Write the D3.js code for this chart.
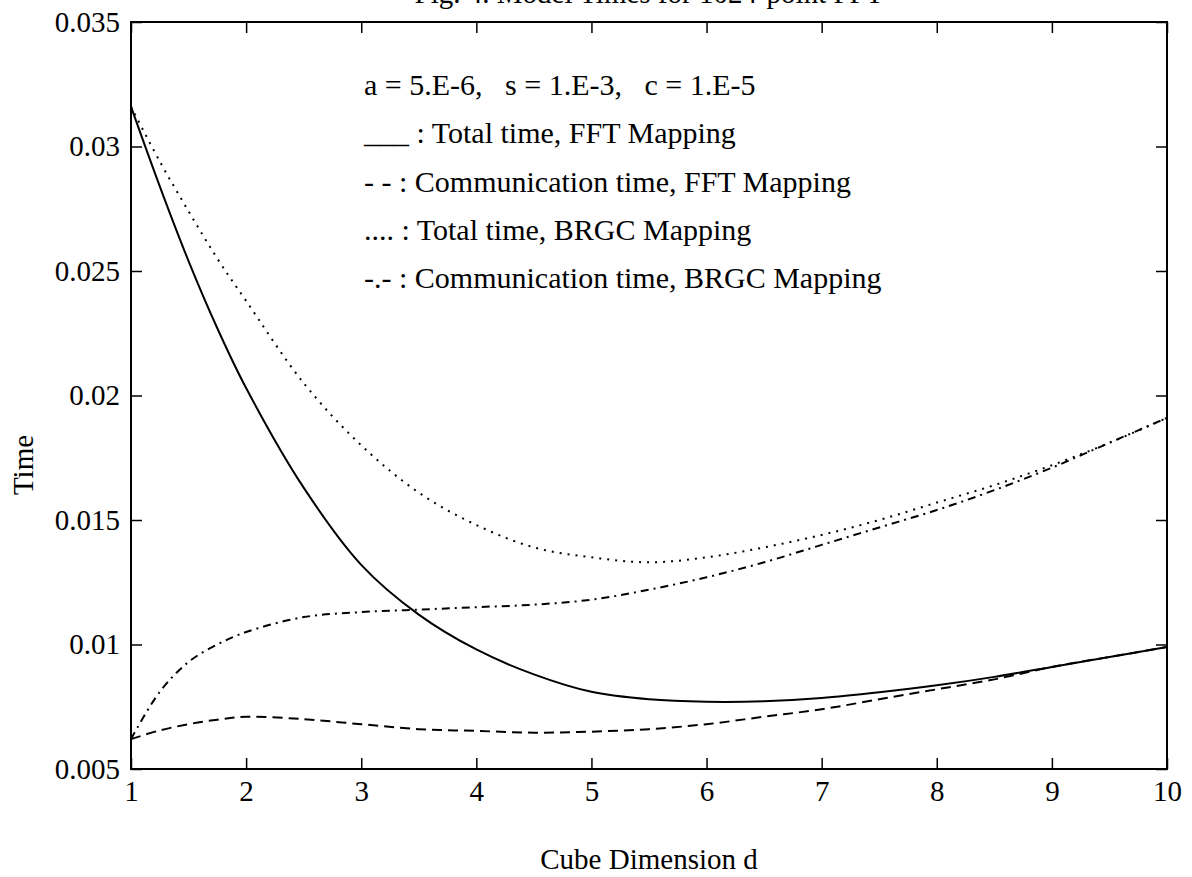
<!DOCTYPE html>
<html>
<head>
<meta charset="utf-8">
<script src="https://cdn.jsdelivr.net/npm/d3@7"></script>
<style>
  body { margin: 0; background: #fff; }
  text { font-family: "Liberation Serif", "DejaVu Serif", serif; fill: #000; }
</style>
</head>
<body>
<svg id="chart" width="1192" height="877"></svg>
<script>
// ===============================
// Data
// ===============================
const dims = [1, 1.25, 1.5, 1.75, 2, 2.5, 3, 3.5, 4, 4.5, 5, 5.5, 6, 6.5, 7, 7.5, 8, 8.5, 9, 9.5, 10];

const totalFFT  = [0.0316, 0.0284, 0.0254, 0.0227, 0.0203, 0.0163, 0.0132, 0.0112, 0.0098, 0.0088, 0.0081, 0.0078, 0.0077, 0.00772, 0.00785, 0.00808, 0.00836, 0.0087, 0.0091, 0.0095, 0.0099];
const commFFT   = [0.0062, 0.00655, 0.0068, 0.00698, 0.0071, 0.0070, 0.0068, 0.0066, 0.00653, 0.00646, 0.0065, 0.0066, 0.0068, 0.0071, 0.0074, 0.0078, 0.0082, 0.0086, 0.0091, 0.0095, 0.0099];
const totalBRGC = [0.0316, 0.0294, 0.0274, 0.0255, 0.0238, 0.0205, 0.0180, 0.0161, 0.0148, 0.0139, 0.0135, 0.0133, 0.0135, 0.0139, 0.0144, 0.0150, 0.0157, 0.0164, 0.0172, 0.0181, 0.0191];
const commBRGC  = [0.0062, 0.0081, 0.0093, 0.0100, 0.0105, 0.0111, 0.0113, 0.0114, 0.0115, 0.0116, 0.0118, 0.0122, 0.0127, 0.0133, 0.0140, 0.0147, 0.0154, 0.0162, 0.0171, 0.0181, 0.0191];

const xTicks = [1, 2, 3, 4, 5, 6, 7, 8, 9, 10];
const yTicks = [0.005, 0.01, 0.015, 0.02, 0.025, 0.03, 0.035];
const yTickLabels = ["0.005", "0.01", "0.015", "0.02", "0.025", "0.03", "0.035"];

const legendLines = [
    "a = 5.E-6,   s = 1.E-3,   c = 1.E-5",
    "___ : Total time, FFT Mapping",
    "- - : Communication time, FFT Mapping",
    ".... : Total time, BRGC Mapping",
    "-.- : Communication time, BRGC Mapping"
];

// ===============================
// Setup
// ===============================
const svg = d3.select("#chart"),
      margin = { top: 22, right: 25, bottom: 108, left: 131 },
      width = 1192,
      height = 877,
      fontSize = 29;

const x = d3.scaleLinear()
    .domain([1, 10])
    .range([margin.left, width - margin.right]);

const y = d3.scaleLinear()
    .domain([0.005, 0.035])
    .range([height - margin.bottom, margin.top]);

const yLabel = d => yTickLabels[yTicks.indexOf(d)];

// Axes (ticks point inward on all four sides)
function styleAxis(g) {
    g.selectAll("path.domain").remove();
    g.selectAll("line").attr("stroke", "#000").attr("stroke-width", 1.5);
    g.selectAll("text").style("font-size", fontSize + "px")
        .style("font-family", "'Liberation Serif', serif");
}

svg.append("g")
    .attr("transform", `translate(0, ${y(0.005)})`)
    .call(d3.axisBottom(x).tickValues(xTicks).tickSizeInner(-11).tickSizeOuter(0).tickPadding(11))
    .call(styleAxis);

svg.append("g")
    .attr("transform", `translate(0, ${y(0.035)})`)
    .call(d3.axisTop(x).tickValues(xTicks).tickSizeInner(-11).tickSizeOuter(0).tickFormat(""))
    .call(styleAxis);

svg.append("g")
    .attr("transform", `translate(${x(1)}, 0)`)
    .call(d3.axisLeft(y).tickValues(yTicks).tickFormat(yLabel).tickSizeInner(-11).tickSizeOuter(0).tickPadding(11))
    .call(styleAxis);

svg.append("g")
    .attr("transform", `translate(${x(10)}, 0)`)
    .call(d3.axisRight(y).tickValues(yTicks).tickSizeInner(-11).tickSizeOuter(0).tickFormat(""))
    .call(styleAxis);

// Frame
svg.append("rect")
    .attr("x", x(1))
    .attr("y", y(0.035))
    .attr("width", x(10) - x(1))
    .attr("height", y(0.005) - y(0.035))
    .attr("fill", "none")
    .attr("stroke", "#000")
    .attr("stroke-width", 2);

// ===============================
// Curves
// ===============================
const line = d3.line()
    .x(d => x(d[0]))
    .y(d => y(d[1]))
    .curve(d3.curveCatmullRom.alpha(0.5));

const series = [
    { values: totalFFT,  dash: null },
    { values: commFFT,   dash: "10,6" },
    { values: totalBRGC, dash: "2,6" },
    { values: commBRGC,  dash: "8,5,2,5" }
];

series.forEach(s => {
    svg.append("path")
        .datum(dims.map((d, i) => [d, s.values[i]]))
        .attr("fill", "none")
        .attr("stroke", "#000")
        .attr("stroke-width", 2)
        .attr("stroke-dasharray", s.dash)
        .attr("d", line);
});

// ===============================
// Text
// ===============================
svg.append("text")
    .attr("x", (x(1) + x(10)) / 2)
    .attr("y", 3)
    .attr("text-anchor", "middle")
    .style("font-size", fontSize + "px")
    .text("Fig. 4. Model Times for 1024-point FFT");

svg.append("text")
    .attr("x", (x(1) + x(10)) / 2)
    .attr("y", 869)
    .attr("text-anchor", "middle")
    .style("font-size", fontSize + "px")
    .text("Cube Dimension d");

svg.append("text")
    .attr("transform", "translate(33, 465) rotate(-90)")
    .attr("text-anchor", "middle")
    .style("font-size", fontSize + "px")
    .text("Time");

svg.selectAll("text.legend")
    .data(legendLines)
    .enter()
    .append("text")
    .attr("class", "legend")
    .attr("x", 364)
    .attr("y", (d, i) => 95 + i * 48.3)
    .style("font-size", "30px")
    .style("white-space", "pre")
    .text(d => d);
</script>
</body>
</html>
